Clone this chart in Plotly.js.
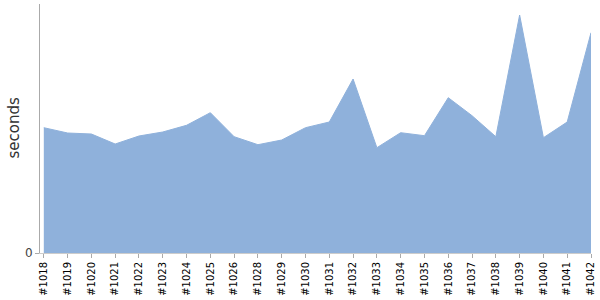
<!DOCTYPE html>
<html><head><meta charset="utf-8">
<script src="https://cdn.plot.ly/plotly-3.0.1.min.js"></script>
<style>html,body{margin:0;padding:0;background:#fff}#chart{width:600px;height:300px}</style>
</head><body><div id="chart"></div>
<script>
const builds = ["#1018","#1019","#1020","#1021","#1022","#1023","#1024","#1025","#1026","#1028","#1029","#1030","#1031","#1032","#1033","#1034","#1035","#1036","#1037","#1038","#1039","#1040","#1041","#1042"];
const seconds = [125.3,120,119,109,117,121,127.7,140.3,116.3,108.3,113,125.3,131,174,105.3,120.3,117.3,155.3,137.3,116.3,238,115.3,131,220.3];
const yTitle = 'seconds';

Plotly.newPlot('chart', [{
  x: builds, y: seconds, type: 'scatter', mode: 'lines',
  fill: 'tozeroy', fillcolor: 'rgb(143,177,219)',
  line: {color: 'rgb(143,177,219)', width: 1},
  hoverinfo: 'none'
}], {
  width: 600, height: 300,
  margin: {l: 40, r: 9, t: 4, b: 47},
  paper_bgcolor: '#fff', plot_bgcolor: '#fff',
  showlegend: false,
  font: {family: 'DejaVu Sans', size: 10, color: '#000'},
  xaxis: {
    type: 'category', range: [-0.16, 23],
    tickangle: -90, ticks: 'outside', ticklen: 4, tickcolor: '#aaa',
    showline: true, linecolor: '#ccc', linewidth: 1, showgrid: false, zeroline: false,
    tickfont: {family: 'DejaVu Sans', size: 10, color: '#000'}
  },
  yaxis: {
    range: [0, 249], tickvals: [0], ticktext: ['0'],
    ticks: 'outside', ticklen: 4, tickcolor: '#aaa',
    showline: true, linecolor: '#aaa', linewidth: 1, showgrid: false, zeroline: false,
    tickfont: {family: 'DejaVu Sans', size: 12, color: '#444'}
  },
  annotations: [{
    text: yTitle, textangle: -90, showarrow: false,
    xref: 'paper', yref: 'paper', x: -0.049, y: 0.5, xanchor: 'center', yanchor: 'middle',
    font: {family: 'DejaVu Sans', size: 15, color: '#333'}
  }]
}, {staticPlot: true});
</script></body></html>
